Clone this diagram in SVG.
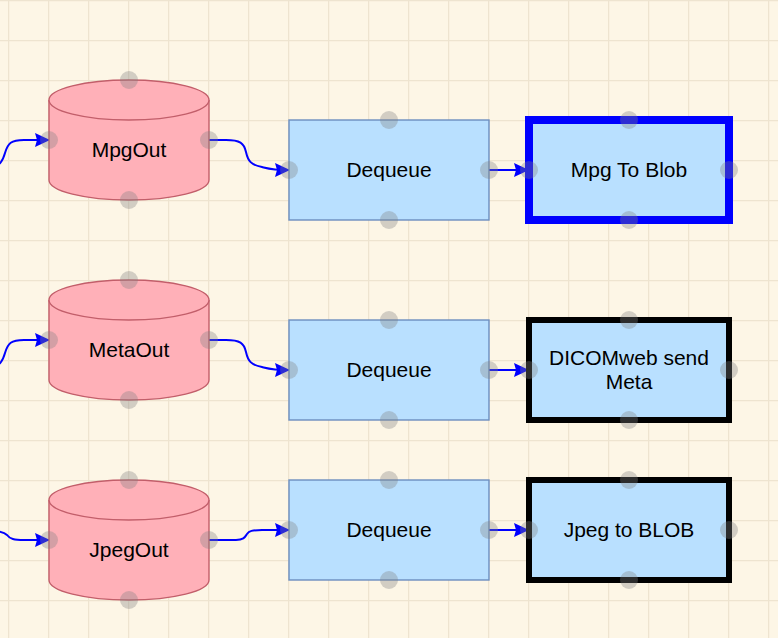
<svg xmlns="http://www.w3.org/2000/svg" width="778" height="638" viewBox="0 0 778 638">
<defs>
<pattern id="grid" x="8" y="0" width="40" height="40" patternUnits="userSpaceOnUse">
<path d="M0,0 L0,40 M0,0 L40,0" fill="none" stroke="#eee4d0" stroke-width="2.5"/>
</pattern>
<marker id="arr" viewBox="0 0 15 14" refX="14" refY="7" markerWidth="15" markerHeight="14" markerUnits="userSpaceOnUse" orient="auto">
<path d="M0,0 L15,7 L0,14 L2,7 Z" fill="#0000ff"/>
</marker>
<style>
.cyl{fill:#ffb0b8;stroke:#c25e6a;stroke-width:1.4}
.box{fill:#b9e0ff;stroke:#6c8ebf;stroke-width:1.4}
.bold{fill:#b9e0ff;stroke:#000000;stroke-width:6}
.blue{fill:#b9e0ff;stroke:#0000ff;stroke-width:8}
.lbl{font-family:"Liberation Sans",Helvetica,Arial,sans-serif;font-size:21px;fill:#000000;text-anchor:middle}
.edge{fill:none;stroke:#0000ff;stroke-width:2;marker-end:url(#arr)}
.pt{fill:#808080;fill-opacity:0.35}
</style>
</defs>
<rect x="0" y="0" width="778" height="638" fill="#fdf6e6"/>
<rect x="0" y="0" width="778" height="638" fill="url(#grid)"/>

<g id="connectors">
<path class="edge" d="M-10,167 C0,167 3,160 5,153 C8,143 11,140 24,140 L49,140"/>
<path class="edge" d="M-10,367 C0,367 3,360 5,353 C8,343 11,340 24,340 L49,340"/>
<path class="edge" d="M-10,531 C0,531 4,532 7,535 C10,539 14,540 24,540 L49,540"/>
<path class="edge" d="M209,140 L226,140 C240,140 244,143 246,152 C248,161 251,165 262,167 C268,168.5 272,170 289,170"/>
<path class="edge" d="M209,340 L226,340 C240,340 244,343 246,352 C248,361 251,365 262,367 C268,368.5 272,370 289,370"/>
<path class="edge" d="M209,540 L236,540 C244,540 245,537 247,534 C249,531 252,530 262,530 L289,530"/>
<path class="edge" d="M489,170 L528,170"/>
<path class="edge" d="M489,370 L528,370"/>
<path class="edge" d="M489,530 L528,530"/>
</g>

<g id="mpgout">
<path class="cyl" d="M49,100 A80,20 0 0 1 209,100 L209,180 A80,20 0 0 1 49,180 Z"/>
<path class="cyl" fill="none" d="M49,100 A80,20 0 0 0 209,100"/>
<text class="lbl" x="129" y="157">MpgOut</text>
</g>
<g id="metaout">
<path class="cyl" d="M49,300 A80,20 0 0 1 209,300 L209,380 A80,20 0 0 1 49,380 Z"/>
<path class="cyl" fill="none" d="M49,300 A80,20 0 0 0 209,300"/>
<text class="lbl" x="129" y="357">MetaOut</text>
</g>
<g id="jpegout">
<path class="cyl" d="M49,500 A80,20 0 0 1 209,500 L209,580 A80,20 0 0 1 49,580 Z"/>
<path class="cyl" fill="none" d="M49,500 A80,20 0 0 0 209,500"/>
<text class="lbl" x="129" y="557">JpegOut</text>
</g>

<g id="dequeue1">
<rect class="box" x="289" y="120" width="200" height="100"/>
<text class="lbl" x="389" y="177">Dequeue</text>
</g>
<g id="dequeue2">
<rect class="box" x="289" y="320" width="200" height="100"/>
<text class="lbl" x="389" y="377">Dequeue</text>
</g>
<g id="dequeue3">
<rect class="box" x="289" y="480" width="200" height="100"/>
<text class="lbl" x="389" y="537">Dequeue</text>
</g>

<g id="mpgtoblob">
<rect class="blue" x="529" y="120" width="200" height="100"/>
<text class="lbl" x="629" y="177">Mpg To Blob</text>
</g>
<g id="dicomweb">
<rect class="bold" x="529" y="320" width="200" height="100"/>
<text class="lbl" x="629" y="365">DICOMweb send</text>
<text class="lbl" x="629" y="389">Meta</text>
</g>
<g id="jpegtoblob">
<rect class="bold" x="529" y="480" width="200" height="100"/>
<text class="lbl" x="629" y="537">Jpeg to BLOB</text>
</g>

<g id="points">
<circle class="pt" cx="129" cy="80" r="9"/><circle class="pt" cx="129" cy="200" r="9"/><circle class="pt" cx="49" cy="140" r="9"/><circle class="pt" cx="209" cy="140" r="9"/>
<circle class="pt" cx="129" cy="280" r="9"/><circle class="pt" cx="129" cy="400" r="9"/><circle class="pt" cx="49" cy="340" r="9"/><circle class="pt" cx="209" cy="340" r="9"/>
<circle class="pt" cx="129" cy="480" r="9"/><circle class="pt" cx="129" cy="600" r="9"/><circle class="pt" cx="49" cy="540" r="9"/><circle class="pt" cx="209" cy="540" r="9"/>
<circle class="pt" cx="389" cy="120" r="9"/><circle class="pt" cx="389" cy="220" r="9"/><circle class="pt" cx="289" cy="170" r="9"/><circle class="pt" cx="489" cy="170" r="9"/>
<circle class="pt" cx="389" cy="320" r="9"/><circle class="pt" cx="389" cy="420" r="9"/><circle class="pt" cx="289" cy="370" r="9"/><circle class="pt" cx="489" cy="370" r="9"/>
<circle class="pt" cx="389" cy="480" r="9"/><circle class="pt" cx="389" cy="580" r="9"/><circle class="pt" cx="289" cy="530" r="9"/><circle class="pt" cx="489" cy="530" r="9"/>
<circle class="pt" cx="629" cy="120" r="9"/><circle class="pt" cx="629" cy="220" r="9"/><circle class="pt" cx="529" cy="170" r="9"/><circle class="pt" cx="729" cy="170" r="9"/>
<circle class="pt" cx="629" cy="320" r="9"/><circle class="pt" cx="629" cy="420" r="9"/><circle class="pt" cx="529" cy="370" r="9"/><circle class="pt" cx="729" cy="370" r="9"/>
<circle class="pt" cx="629" cy="480" r="9"/><circle class="pt" cx="629" cy="580" r="9"/><circle class="pt" cx="529" cy="530" r="9"/><circle class="pt" cx="729" cy="530" r="9"/>
</g>
</svg>
